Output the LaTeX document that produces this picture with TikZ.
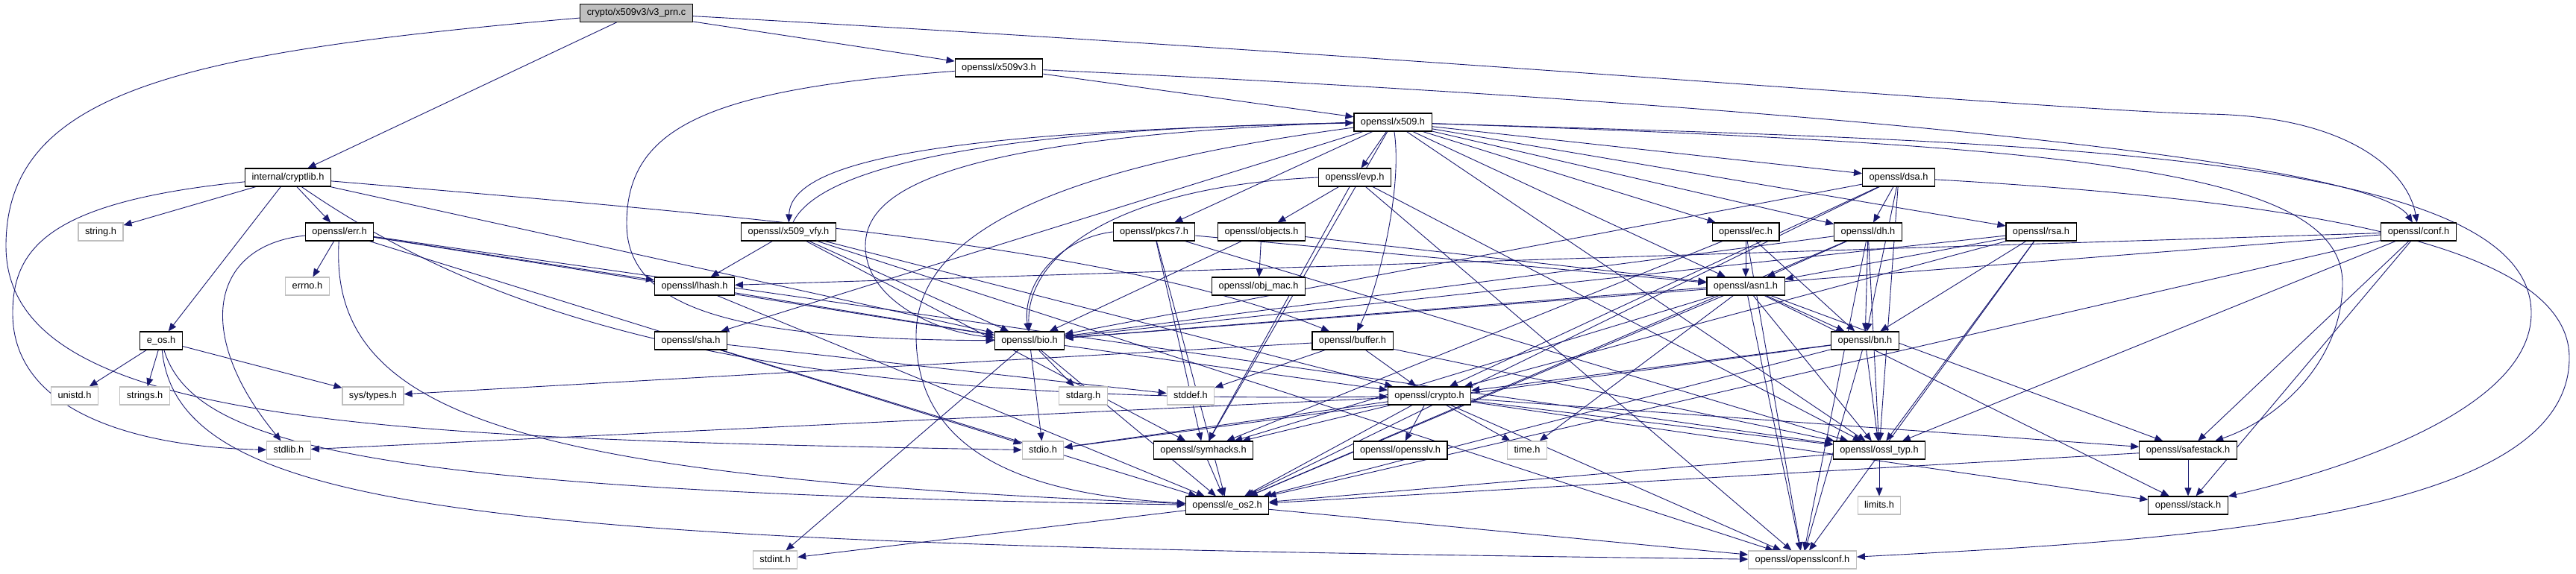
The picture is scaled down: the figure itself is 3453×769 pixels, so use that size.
\documentclass[tikz,border=0pt]{standalone}
\usepackage{fontspec}
\setmainfont{Liberation Sans}
\usetikzlibrary{arrows.meta}
\definecolor{EdgeBlue}{RGB}{25,25,112}
\definecolor{NodeGray}{RGB}{191,191,191}
\pgfdeclarelayer{background}
\pgfsetlayers{background,main}

\begin{document}
\begin{tikzpicture}[x=1pt,y=-1pt,
	hfile/.style={rectangle,draw=black,fill=white,line width=1.1pt,minimum height=24pt,
	inner xsep=9pt,inner ysep=0pt,text height=9.4pt,text depth=2.6pt,
	font=\fontsize{12.8}{15}\selectfont},
	sysfile/.style={hfile,draw=NodeGray},
	rootfile/.style={hfile,fill=NodeGray},
	incl/.style={draw=EdgeBlue,line width=0.9pt,-{Triangle[length=11pt,width=9pt]}}]
			\useasboundingbox (0,0) rectangle (3453,769);
			\node[rootfile] (v3prn) at (853,17.5) {crypto/x509v3/v3\_prn.c};
			\node[hfile] (x509v3) at (1339,91) {openssl/x509v3.h};
			\node[hfile] (x509) at (1867,164) {openssl/x509.h};
			\node[hfile] (cryptlib) at (386,238) {internal/cryptlib.h};
			\node[hfile] (evp) at (1816,238) {openssl/evp.h};
			\node[hfile] (dsa) at (2545,238) {openssl/dsa.h};
			\node[sysfile] (stringh) at (135,311) {string.h};
			\node[hfile] (err) at (455,311) {openssl/err.h};
			\node[hfile] (vfy) at (1057,311) {openssl/x509\_vfy.h};
			\node[hfile] (pkcs7) at (1547,311) {openssl/pkcs7.h};
			\node[hfile] (objects) at (1691,311) {openssl/objects.h};
			\node[hfile] (ec) at (2340,311) {openssl/ec.h};
			\node[hfile] (dh) at (2504,311) {openssl/dh.h};
			\node[hfile] (rsa) at (2736,311) {openssl/rsa.h};
			\node[hfile] (conf) at (3242,311) {openssl/conf.h};
			\node[sysfile] (errno) at (412,384) {errno.h};
			\node[hfile] (lhash) at (931,384) {openssl/lhash.h};
			\node[hfile] (objmac) at (1687,384) {openssl/obj\_mac.h};
			\node[hfile] (asn1) at (2340,384) {openssl/asn1.h};
			\node[hfile] (eos) at (216,457) {e\_os.h};
			\node[hfile] (sha) at (926,457) {openssl/sha.h};
			\node[hfile] (bio) at (1380,457) {openssl/bio.h};
			\node[hfile] (buffer) at (1813,457) {openssl/buffer.h};
			\node[hfile] (bn) at (2500,457) {openssl/bn.h};
			\node[sysfile] (unistd) at (100,531) {unistd.h};
			\node[sysfile] (strings) at (194,531) {strings.h};
			\node[sysfile] (systypes) at (500,531) {sys/types.h};
			\node[sysfile] (stdarg) at (1452,531) {stdarg.h};
			\node[sysfile] (stddef) at (1596,531) {stddef.h};
			\node[hfile] (crypto) at (1916,531) {openssl/crypto.h};
			\node[sysfile] (stdlib) at (387,604) {stdlib.h};
			\node[sysfile] (stdio) at (1398,604) {stdio.h};
			\node[hfile] (symhacks) at (1613,604) {openssl/symhacks.h};
			\node[hfile] (opensslv) at (1877,604) {openssl/opensslv.h};
			\node[sysfile] (timeh) at (2047,604) {time.h};
			\node[hfile] (ossltyp) at (2519,604) {openssl/ossl\_typ.h};
			\node[hfile] (safestack) at (2933,604) {openssl/safestack.h};
			\node[hfile] (eos2) at (1645,678) {openssl/e\_os2.h};
			\node[sysfile] (limits) at (2519,678) {limits.h};
			\node[hfile] (stack) at (2933,678) {openssl/stack.h};
			\node[sysfile] (stdint) at (1039,751) {stdint.h};
			\node[sysfile] (opensslconf) at (2416,751) {openssl/opensslconf.h};
			\begin{pgfonlayer}{background}
			\draw[incl] (v3prn) -- (cryptlib);
			\draw[incl] (v3prn) -- (x509v3);
			\draw[incl] (v3prn) .. controls (250,70) and (8,120) .. (8,330) .. controls (8,570) and (500,588) .. (stdio);
			\draw[incl] (v3prn) .. controls (1900,75) and (2780,150) .. (2960,153) .. controls (3150,156) and (3228,230) .. (conf);
			\draw[incl] (cryptlib) -- (stringh);
			\draw[incl] (cryptlib) -- (err);
			\draw[incl] (cryptlib) -- (eos);
			\draw[incl] (cryptlib) .. controls (70,270) and (17,330) .. (17,420) .. controls (17,560) and (200,600) .. (stdlib);
			\draw[incl] (cryptlib) -- (bio);
			\draw[incl] (cryptlib) .. controls (1000,290) and (1500,330) .. (buffer);
			\draw[incl] (cryptlib) .. controls (650,420) and (1000,545) .. (crypto);
			\draw[incl] (x509v3) .. controls (950,120) and (840,170) .. (840,300) .. controls (840,420) and (1000,455) .. (bio);
			\draw[incl] (x509v3) -- (x509);
			\draw[incl] (x509v3) .. controls (2400,140) and (3180,215) .. (conf);
			\draw[incl] (x509) -- (evp);
			\draw[incl] (x509) -- (pkcs7);
			\draw[incl] (x509) .. controls (1300,175) and (1060,210) .. (vfy);
			\draw[incl] (x509.west) .. controls (1250,185) and (1160,260) .. (1160,330) .. controls (1160,400) and (1250,445) .. (bio);
			\draw[incl] (x509) .. controls (1880,250) and (1850,380) .. (buffer);
			\draw[incl] (x509) -- (sha);
			\draw[incl] (x509) .. controls (1450,220) and (1228,300) .. (1228,450) .. controls (1228,620) and (1400,665) .. (eos2);
			\draw[incl] (x509) -- (symhacks);
			\draw[incl] (x509) -- (ossltyp);
			\draw[incl] (x509) -- (asn1);
			\draw[incl] (x509) -- (ec);
			\draw[incl] (x509) -- (dsa);
			\draw[incl] (x509) -- (dh);
			\draw[incl] (x509) -- (rsa);
			\draw[incl] (x509) .. controls (2800,195) and (3140,230) .. (3140,380) .. controls (3140,480) and (3060,560) .. (safestack);
			\draw[incl] (x509) .. controls (2700,190) and (3393,200) .. (3393,420) .. controls (3393,560) and (3100,640) .. (stack);
			\draw[incl] (evp.west) .. controls (1500,250) and (1375,340) .. (bio);
			\draw[incl] (evp) -- (objects);
			\draw[incl] (evp) -- (symhacks);
			\draw[incl] (evp) -- (ossltyp);
			\draw[incl] (evp) -- (opensslconf);
			\draw[incl] (dsa) -- (dh);
			\draw[incl] (dsa) -- (bn);
			\draw[incl] (dsa) -- (eos2);
			\draw[incl] (dsa) -- (bio);
			\draw[incl] (dsa) -- (crypto);
			\draw[incl] (dsa) -- (ossltyp);
			\draw[incl] (dsa) .. controls (3100,270) and (3444,330) .. (3444,480) .. controls (3444,700) and (2900,725) .. (opensslconf);
			\draw[incl] (err) .. controls (280,330) and (260,450) .. (stdlib);
			\draw[incl] (err) -- (stdio);
			\draw[incl] (err) -- (errno);
			\draw[incl] (err) .. controls (440,560) and (700,640) .. (eos2);
			\draw[incl] (err) -- (ossltyp);
			\draw[incl] (err) -- (bio);
			\draw[incl] (err) -- (lhash);
			\draw[incl] (vfy) .. controls (1100,220) and (1350,172) .. (x509);
			\draw[incl] (vfy) -- (lhash);
			\draw[incl] (vfy) -- (bio);
			\draw[incl] (vfy) -- (crypto);
			\draw[incl] (vfy) -- (symhacks);
			\draw[incl] (vfy) -- (opensslconf);
			\draw[incl] (pkcs7) -- (asn1);
			\draw[incl] (pkcs7.west) .. controls (1420,320) and (1370,380) .. (bio);
			\draw[incl] (pkcs7) -- (eos2);
			\draw[incl] (pkcs7) -- (symhacks);
			\draw[incl] (pkcs7) -- (ossltyp);
			\draw[incl] (objects) -- (objmac);
			\draw[incl] (objects) -- (bio);
			\draw[incl] (objects) -- (asn1);
			\draw[incl] (ec) -- (asn1);
			\draw[incl] (ec) -- (bn);
			\draw[incl] (ec) -- (symhacks);
			\draw[incl] (ec) -- (opensslconf);
			\draw[incl] (dh) -- (asn1);
			\draw[incl] (dh) -- (bn);
			\draw[incl] (dh) -- (eos2);
			\draw[incl] (dh) -- (bio);
			\draw[incl] (dh) -- (ossltyp);
			\draw[incl] (dh) -- (opensslconf);
			\draw[incl] (rsa) -- (asn1);
			\draw[incl] (rsa) -- (bn);
			\draw[incl] (rsa) -- (bio);
			\draw[incl] (rsa) -- (crypto);
			\draw[incl] (rsa) -- (ossltyp);
			\draw[incl] (rsa) -- (opensslconf);
			\draw[incl] (conf) -- (bio);
			\draw[incl] (conf) -- (lhash);
			\draw[incl] (conf) -- (stack);
			\draw[incl] (conf) -- (safestack);
			\draw[incl] (conf) -- (eos2);
			\draw[incl] (conf) -- (ossltyp);
			\draw[incl] (lhash) -- (eos2);
			\draw[incl] (lhash) -- (bio);
			\draw[incl] (asn1) -- (bn);
			\draw[incl] (asn1) -- (timeh);
			\draw[incl] (asn1) -- (eos2);
			\draw[incl] (asn1) -- (opensslconf);
			\draw[incl] (asn1) -- (bio);
			\draw[incl] (asn1) -- (stack);
			\draw[incl] (asn1) -- (safestack);
			\draw[incl] (asn1) -- (symhacks);
			\draw[incl] (asn1) -- (ossltyp);
			\draw[incl] (eos) -- (unistd);
			\draw[incl] (eos) -- (strings);
			\draw[incl] (eos) -- (systypes);
			\draw[incl] (eos) .. controls (260,600) and (500,660) .. (eos2);
			\draw[incl] (eos) .. controls (240,700) and (700,730) .. (opensslconf);
			\draw[incl] (sha) -- (eos2);
			\draw[incl] (sha) -- (stddef);
			\draw[incl] (bio) -- (eos2);
			\draw[incl] (bio) -- (stdio);
			\draw[incl] (bio) -- (stdarg);
			\draw[incl] (bio) -- (crypto);
			\draw[incl] (bio) -- (stdint);
			\draw[incl] (buffer) -- (ossltyp);
			\draw[incl] (buffer) -- (crypto);
			\draw[incl] (buffer) -- (stddef);
			\draw[incl] (buffer) -- (systypes);
			\draw[incl] (bn) -- (eos2);
			\draw[incl] (bn) -- (stdio);
			\draw[incl] (bn) -- (opensslconf);
			\draw[incl] (bn) -- (ossltyp);
			\draw[incl] (bn) -- (crypto);
			\draw[incl] (crypto) -- (stdlib);
			\draw[incl] (crypto) -- (timeh);
			\draw[incl] (crypto) -- (eos2);
			\draw[incl] (crypto) -- (stdio);
			\draw[incl] (crypto) -- (stack);
			\draw[incl] (crypto) -- (safestack);
			\draw[incl] (crypto) -- (opensslv);
			\draw[incl] (crypto) -- (ossltyp);
			\draw[incl] (crypto) -- (opensslconf);
			\draw[incl] (crypto) -- (symhacks);
			\draw[incl] (symhacks) -- (eos2);
			\draw[incl] (ossltyp) -- (eos2);
			\draw[incl] (ossltyp) -- (limits);
			\draw[incl] (safestack) -- (stack);
			\draw[incl] (safestack) -- (eos2);
			\draw[incl] (eos2) -- (opensslconf);
			\draw[incl] (eos2) -- (stdint);
			\end{pgfonlayer}
		\end{tikzpicture}
\end{document}
